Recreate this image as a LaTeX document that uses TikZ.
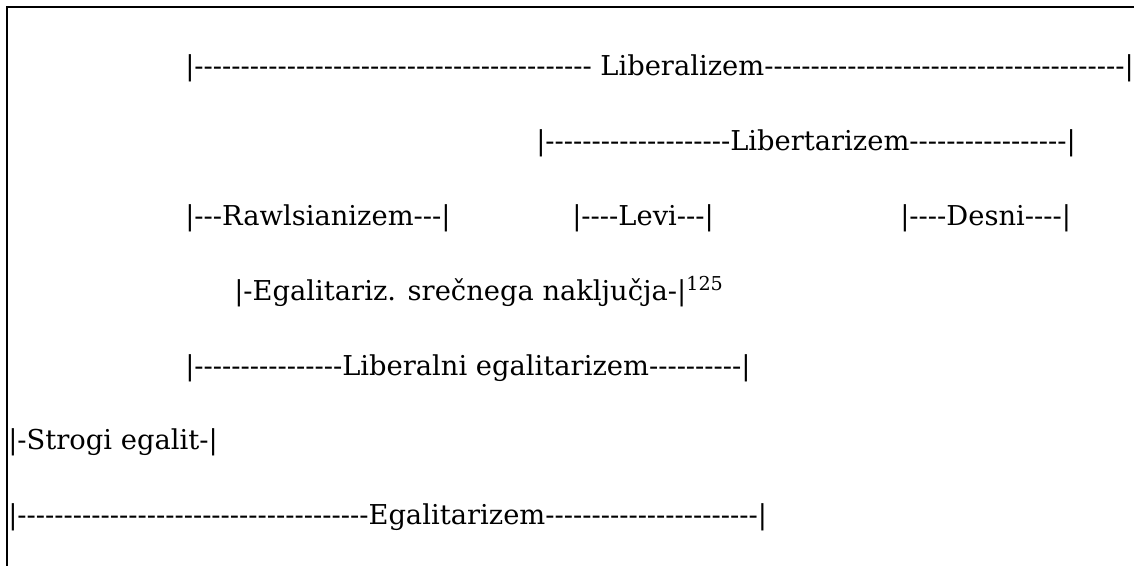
\documentclass[tikz,border=0pt]{standalone}
\usepackage{fontspec}
\setmainfont{DejaVu Serif}[Ligatures=TeXOff]
\pgfdeclarelayer{edgelayer}
\pgfdeclarelayer{nodelayer}
\pgfsetlayers{edgelayer,nodelayer,main}
\tikzstyle{none} = []
\tikzstyle{row} = [anchor=base west, inner sep=0pt, font=\fontsize{20.5}{24}\selectfont]
\tikzstyle{frame} = [line width=1.8pt]

\begin{document}
\begin{tikzpicture}[x=0.75pt, y=-0.75pt]
	\useasboundingbox (0, 0) rectangle (1134, 566);
	\begin{pgfonlayer}{nodelayer}
		\node [style=row] (0) at (185, 76) {|------------------------------------------- Liberalizem---------------------------------------|};
		\node [style=row] (1) at (536, 150.75) {|--------------------Libertarizem-----------------|};
		\node [style=row] (2) at (185, 225.5) {|---Rawlsianizem---|};
		\node [style=row] (3) at (572, 225.5) {|----Levi---|};
		\node [style=row] (4) at (900, 225.5) {|----Desni----|};
		\node [style=row] (5) at (234, 300.25) {|-Egalitariz. srečnega naključja-|\textsuperscript{125}};
		\node [style=row] (6) at (185, 375) {|----------------Liberalni egalitarizem----------|};
		\node [style=row] (7) at (8, 449.75) {|-Strogi egalit-|};
		\node [style=row] (8) at (8, 524.5) {|--------------------------------------Egalitarizem-----------------------|};
		\node [style=none] (9) at (7, 566) {};
		\node [style=none] (10) at (7, 7) {};
		\node [style=none] (11) at (1134, 7) {};
	\end{pgfonlayer}
	\begin{pgfonlayer}{edgelayer}
		\draw [style=frame] (9.center) to (10.center) to (11.center);
	\end{pgfonlayer}
\end{tikzpicture}
\end{document}
